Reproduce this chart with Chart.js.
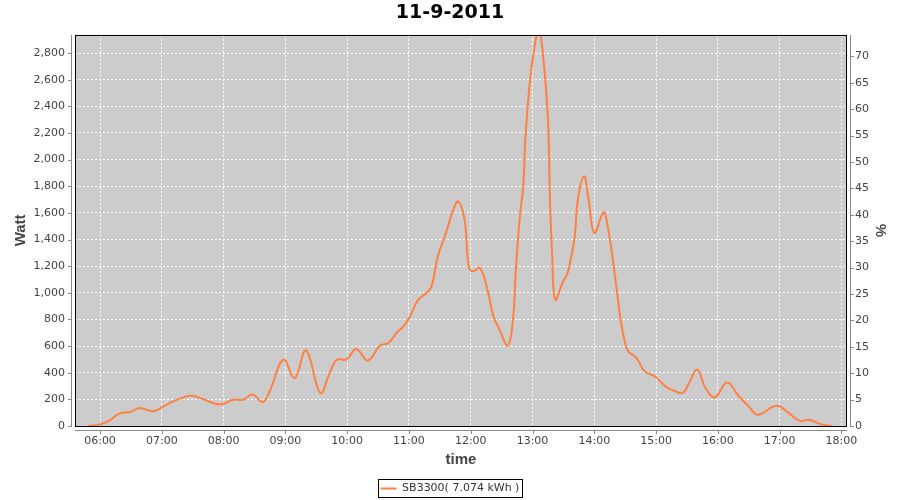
<!DOCTYPE html>
<html>
<head>
<meta charset="utf-8">
<title>11-9-2011</title>
<script src="https://cdn.jsdelivr.net/npm/chart.js"></script>
<style>
  html, body { margin: 0; padding: 0; background: #fff; }
  #wrap { width: 900px; height: 500px; }
</style>
</head>
<body>
<div id="wrap"><canvas id="pvChart" width="900" height="500"></canvas></div>
<script>
// readings (time of day, watt)
const times = [
  '05:49', '06:00', '06:10', '06:19', '06:29', '06:39', '06:51', '07:00', '07:11', '07:21',
  '07:29', '07:40', '07:52', '08:00', '08:09', '08:19', '08:28', '08:38', '08:45', '08:58',
  '09:09', '09:20', '09:34', '09:43', '09:50', '09:59', '10:09', '10:20', '10:32', '10:40',
  '10:48', '10:56', '11:01', '11:09', '11:17', '11:22', '11:28', '11:36', '11:43', '11:48',
  '11:54', '11:58', '12:02', '12:09', '12:17', '12:22', '12:28', '12:36', '12:41', '12:44',
  '12:48', '12:51', '12:53', '12:57', '13:01', '13:06', '13:10', '13:15', '13:17', '13:19',
  '13:22', '13:29', '13:34', '13:37', '13:41', '13:44', '13:50', '13:54', '14:00', '14:09',
  '14:13', '14:18', '14:23', '14:26', '14:30', '14:33', '14:41', '14:49', '14:59', '15:10',
  '15:17', '15:26', '15:32', '15:40', '15:48', '15:57', '16:09', '16:20', '16:30', '16:39',
  '16:57', '17:08', '17:19', '17:29', '17:39', '17:50'
];
const watts = [
  0, 12, 45, 95, 105, 135, 110, 140, 185, 215,
  227, 203, 167, 167, 197, 197, 237, 180, 265, 498,
  360, 568, 248, 398, 498, 498, 578, 490, 605, 623,
  698, 760, 823, 948, 998, 1048, 1273, 1449, 1624, 1686,
  1549, 1198, 1161, 1186, 998, 823, 723, 603, 798, 1198,
  1599, 1800, 2150, 2550, 2800, 2970, 2800, 2300, 1674, 1300,
  948, 1073, 1148, 1248, 1423, 1699, 1874, 1724, 1449, 1604,
  1498, 1248, 948, 773, 623, 560, 510, 410, 372, 293,
  267, 248, 323, 423, 285, 215, 327, 227, 147, 85,
  152, 102, 40, 47, 15, 0
];
const hourLabels = ['06:00', '07:00', '08:00', '09:00', '10:00', '11:00', '12:00',
  '13:00', '14:00', '15:00', '16:00', '17:00', '18:00'];
const wattTicks = [0, 200, 400, 600, 800, 1000, 1200, 1400, 1600, 1800, 2000, 2200, 2400, 2600, 2800];
const percentTicks = [0, 5, 10, 15, 20, 25, 30, 35, 40, 45, 50, 55, 60, 65, 70];
const seriesLabel = 'SB3300( 7.074 kWh )';

function toHours(s) {
  const p = s.split(':');
  return Number(p[0]) + Number(p[1]) / 60;
}

const points = times.map((t, i) => ({ x: toHours(t), y: watts[i] }));
const hourValues = hourLabels.map(toHours);

const tickFont = { family: 'DejaVu Sans', size: 11 };
const axisTitleFont = { family: 'Liberation Sans', size: 15, weight: 'bold' };

// grey plot background, black frame, and the detached axis lines
const plotFrame = {
  id: 'plotFrame',
  beforeDraw(chart) {
    const { ctx, chartArea: a } = chart;
    ctx.save();
    ctx.fillStyle = '#cccccc';
    ctx.fillRect(a.left, a.top, a.right - a.left, a.bottom - a.top);
    ctx.restore();
  },
  afterDraw(chart) {
    const { ctx, chartArea: a, scales } = chart;
    const L = Math.round(a.left), R = Math.round(a.right);
    const T = Math.round(a.top), B = Math.round(a.bottom);
    ctx.save();
    ctx.lineWidth = 1;
    ctx.strokeStyle = '#000';
    ctx.strokeRect(L + 0.5, T + 0.5, R - L - 1, B - T);

    ctx.strokeStyle = '#888888';
    ctx.beginPath();
    // left axis
    ctx.moveTo(L - 3.5, T); ctx.lineTo(L - 3.5, B + 1);
    scales.y.ticks.forEach(t => {
      const py = Math.round(scales.y.getPixelForValue(t.value)) + 0.5;
      ctx.moveTo(L - 7, py); ctx.lineTo(L - 3.5, py);
    });
    // right axis
    ctx.moveTo(R + 3.5, T); ctx.lineTo(R + 3.5, B + 1);
    scales.y1.ticks.forEach(t => {
      const py = Math.round(scales.y1.getPixelForValue(t.value)) + 0.5;
      ctx.moveTo(R + 3.5, py); ctx.lineTo(R + 7, py);
    });
    // bottom axis
    ctx.moveTo(L, B + 4.5); ctx.lineTo(R, B + 4.5);
    scales.x.ticks.forEach(t => {
      const px = Math.round(scales.x.getPixelForValue(t.value)) + 0.5;
      ctx.moveTo(px, B + 4.5); ctx.lineTo(px, B + 8);
    });
    ctx.stroke();

    // frame round the legend
    const hb = chart.legend && chart.legend.legendHitBoxes && chart.legend.legendHitBoxes[0];
    if (hb) {
      ctx.strokeStyle = '#000';
      ctx.strokeRect(Math.round(hb.left) - 2.5, Math.round(hb.top) - 3.5, Math.round(hb.width) + 5, Math.round(hb.height) + 7);
    }
    ctx.restore();
  }
};

const ctx = document.getElementById('pvChart').getContext('2d');
new Chart(ctx, {
  type: 'line',
  data: {
    datasets: [{
      label: seriesLabel,
      data: points,
      borderColor: '#ff8040',
      backgroundColor: '#ff8040',
      borderWidth: 2,
      pointRadius: 0,
      fill: false,
      tension: 0.4,
      yAxisID: 'y'
    }]
  },
  options: {
    responsive: false,
    animation: false,
    events: [],
    layout: { padding: { top: 0, left: 0, right: 0, bottom: -4 } },
    plugins: {
      title: {
        display: true,
        text: '11-9-2011',
        color: '#000',
        font: { family: 'DejaVu Sans', size: 19, weight: 'bold' },
        padding: { top: 2, bottom: 10 }
      },
      legend: {
        display: true,
        position: 'bottom',
        labels: {
          color: '#333',
          font: tickFont,
          usePointStyle: true,
          pointStyle: 'line',
          pointStyleWidth: 16,
          padding: 8
        }
      },
      tooltip: { enabled: false }
    },
    scales: {
      x: {
        type: 'linear',
        min: 5.595,
        max: 18.09,
        afterBuildTicks: s => { s.ticks = hourValues.map(v => ({ value: v })); },
        afterFit: s => { s.height = 49; },
        ticks: {
          color: '#444',
          font: tickFont,
          padding: 9,
          maxRotation: 0,
          callback: (v) => {
            const i = hourValues.indexOf(v);
            return i >= 0 ? hourLabels[i] : '';
          }
        },
        grid: { color: '#ffffff', lineWidth: 1, drawTicks: false },
        border: { display: false, dash: [2, 2] },
        title: { display: true, text: 'time', color: '#444', font: axisTitleFont, padding: { top: 0, bottom: 6 } }
      },
      y: {
        position: 'left',
        min: 0,
        max: 2937,
        afterBuildTicks: s => { s.ticks = wattTicks.map(v => ({ value: v })); },
        afterFit: s => { s.width = 75; },
        ticks: {
          color: '#444',
          font: tickFont,
          padding: 10,
          callback: v => v.toLocaleString('en-US')
        },
        grid: { color: '#ffffff', lineWidth: 1, drawTicks: false },
        border: { display: false, dash: [2, 2] },
        title: { display: true, text: 'Watt', color: '#444', font: axisTitleFont, padding: { top: 12, bottom: 0 } }
      },
      y1: {
        position: 'right',
        min: 0,
        max: 74.1,
        afterBuildTicks: s => { s.ticks = percentTicks.map(v => ({ value: v })); },
        afterFit: s => { s.width = 53; },
        ticks: {
          color: '#444',
          font: tickFont,
          padding: 8
        },
        grid: { display: false, drawTicks: false },
        border: { display: false },
        title: { display: true, text: '%', color: '#444', font: axisTitleFont, padding: { top: 11, bottom: 0 } }
      }
    }
  },
  plugins: [plotFrame]
});
</script>
</body>
</html>
